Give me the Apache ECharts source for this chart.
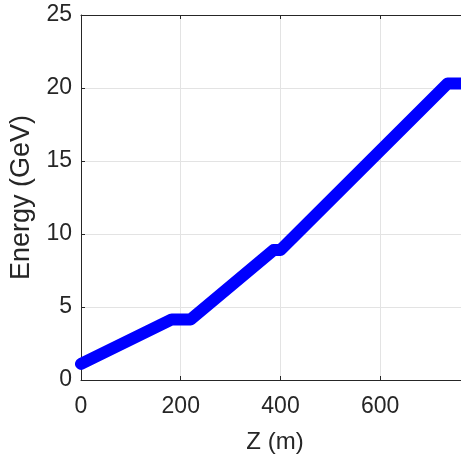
<!DOCTYPE html>
<html>
<head>
<meta charset="utf-8">
<script src="https://cdn.jsdelivr.net/npm/echarts@6/dist/echarts.min.js"></script>
<style>
html,body{margin:0;padding:0;background:#fff;}
#chart{width:461px;height:458px;}
</style>
</head>
<body>
<div id="chart"></div>
<script>
const zPositions = [0, 182, 220, 386, 400, 735, 800];
const energyValues = [1.1, 4.15, 4.15, 8.9, 8.9, 20.3, 20.3];
const xTicks = [0, 200, 400, 600];
const yTicks = [0, 5, 10, 15, 20, 25];

const axisColor = '#262626';
const gridColor = '#e3e3e3';
const font = 'Liberation Sans, Arial, sans-serif';

const chart = echarts.init(document.getElementById('chart'), null, {renderer: 'canvas'});
const data = zPositions.map((z, i) => [z, energyValues[i]]);

chart.setOption({
  animation: false,
  backgroundColor: '#fff',
  grid: {left: 81, top: 15, width: 388, height: 365, containLabel: false, outerBoundsMode: 'none'},
  xAxis: [{
    type: 'value', min: 0, max: 778, interval: 200, position: 'bottom',
    name: 'Z (m)', nameLocation: 'middle', nameGap: 50,
    nameTextStyle: {fontFamily: font, fontSize: 24, color: axisColor},
    axisLine: {show: true, onZero: false, lineStyle: {color: axisColor, width: 1}},
    axisTick: {show: true, inside: true, length: 4, lineStyle: {color: axisColor}},
    axisLabel: {fontFamily: font, fontSize: 23, color: axisColor, margin: 15,
      formatter: v => xTicks.includes(v) ? String(v) : ''},
    splitLine: {show: true, lineStyle: {color: gridColor, width: 1}}
  }, {
    type: 'value', min: 0, max: 778, interval: 200, position: 'top',
    axisLine: {show: true, onZero: false, lineStyle: {color: axisColor, width: 1}},
    axisTick: {show: true, inside: true, length: 4, lineStyle: {color: axisColor}},
    axisLabel: {show: false}, splitLine: {show: false}
  }],
  yAxis: [{
    type: 'value', min: 0, max: 25, interval: 5,
    name: 'Energy (GeV)', nameLocation: 'middle', nameGap: 39,
    nameTextStyle: {fontFamily: font, fontSize: 27, color: axisColor},
    axisLine: {show: true, lineStyle: {color: axisColor, width: 1}},
    axisTick: {show: true, inside: true, length: 4, lineStyle: {color: axisColor}},
    axisLabel: {fontFamily: font, fontSize: 23, color: axisColor, margin: 9,
      formatter: v => yTicks.includes(v) ? String(v) : ''},
    splitLine: {show: true, lineStyle: {color: gridColor, width: 1}}
  }],
  series: [{
    type: 'line', data: data, xAxisIndex: 0, yAxisIndex: 0,
    symbol: 'none', clip: false,
    lineStyle: {color: '#0000ff', width: 12, cap: 'round', join: 'round'}
  }]
});
</script>
</body>
</html>
